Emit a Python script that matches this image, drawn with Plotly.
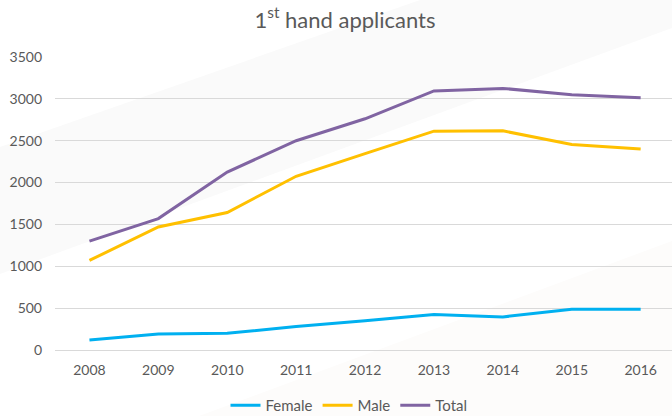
import plotly.graph_objects as go

years = [2008, 2009, 2010, 2011, 2012, 2013, 2014, 2015, 2016]
female = [120, 190, 200, 280, 350, 425, 395, 488, 488]
male = [1070, 1470, 1643, 2075, 2345, 2614, 2618, 2456, 2400]
total = [1300, 1570, 2125, 2500, 2762, 3095, 3125, 3048, 3012]

series = [("Female", female, "#00B0F0"), ("Male", male, "#FFC000"), ("Total", total, "#8064A2")]

W, H = 672, 416
L, R, T, B = 55, 0, 57, 66
pw, ph = W - L - R, H - T - B

def px(x):
    return (x - L) / pw

def py(y):
    return (H - B - y) / ph

def poly(pts):
    return "M " + " L ".join(f"{px(a):.4f},{py(b):.4f}" for a, b in pts) + " Z"

fig = go.Figure()
for name, vals, col in series:
    fig.add_trace(go.Scatter(x=years, y=vals, name=name, mode="lines",
                             line=dict(color=col, width=3)))

shapes = [
    dict(type="path", xref="paper", yref="paper", layer="below",
         path=poly([(0, 147), (420, 0), (672, 0), (672, 28), (0, 274)]),
         fillcolor="#fafafa", line=dict(width=0)),
    dict(type="path", xref="paper", yref="paper", layer="below",
         path=poly([(199, 416), (672, 241), (672, 416)]),
         fillcolor="#fdfcfb", line=dict(width=0)),
]

font = "Lato, 'Open Sans', sans-serif"
fig.update_layout(
    width=W, height=H,
    margin=dict(l=L, r=R, t=T, b=B, autoexpand=False),
    paper_bgcolor="white", plot_bgcolor="rgba(0,0,0,0)",
    shapes=shapes,
    title=dict(text="1<sup>st</sup> hand applicants", x=345 / W, xanchor="center",
               xref="container", y=1 - 20 / H, yanchor="middle",
               font=dict(family=font, size=22, color="#595959")),
    font=dict(family=font, size=14, color="#595959"),
    xaxis=dict(range=[2007.5, 2007.5 + pw / 68.9], tickmode="array", tickvals=years,
               ticktext=[str(y) for y in years], showgrid=False, zeroline=False,
               showline=False, ticks="", ticklabelstandoff=10, automargin=False,
               tickfont=dict(family=font, size=14, color="#595959")),
    yaxis=dict(range=[0, 3500], dtick=500, showgrid=True, gridcolor="#d9d9d9",
               gridwidth=1, zeroline=True, zerolinecolor="#d9d9d9", zerolinewidth=1,
               showline=False, ticks="", ticklabelstandoff=12, automargin=False,
               tickfont=dict(family=font, size=14, color="#595959")),
    legend=dict(orientation="h", x=px(349), xanchor="center", y=py(389), yanchor="top",
                font=dict(family=font, size=15, color="#595959"),
                bgcolor="rgba(0,0,0,0)", itemwidth=30, tracegroupgap=0),
    showlegend=True,
)

fig.write_html("out.html", config={"displayModeBar": False},
               post_script="document.body.style.margin='0';document.body.style.overflow='hidden';")
